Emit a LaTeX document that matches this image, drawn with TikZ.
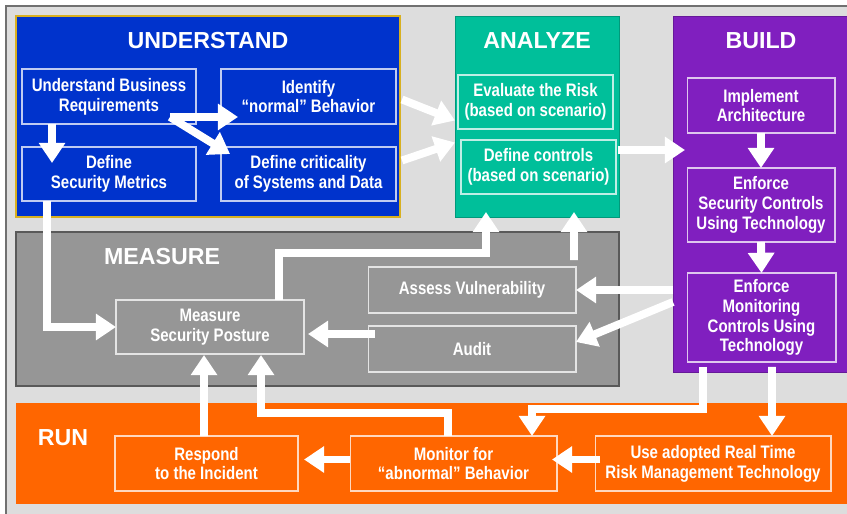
\documentclass[tikz,border=0pt]{standalone}
\usepackage{fontspec}
\setmainfont{Liberation Sans}
\newfontfamily\narrowfont[FakeStretch=0.83]{Liberation Sans}
\usepackage{tikz}
\usetikzlibrary{arrows.meta, fit, calc}

\definecolor{bggray}{HTML}{DDDDDD}
\definecolor{framegray}{HTML}{707070}
\definecolor{undblue}{HTML}{0033CC}
\definecolor{undgold}{HTML}{D8B020}
\definecolor{anateal}{HTML}{00BF9A}
\definecolor{bldpurple}{HTML}{801FBF}
\definecolor{msrgray}{HTML}{969696}
\definecolor{runorange}{HTML}{FF6600}

\begin{document}
\begin{tikzpicture}[x=0.02cm, y=-0.02cm,
  phase/.style={inner sep=0pt, outer sep=0pt},
  box/.style={draw=white, draw opacity=0.75, line width=0.6pt, inner sep=0pt, outer sep=0pt, text=white, align=center, font=\narrowfont\fontsize{10.3}{11.3}\selectfont\bfseries},
  title/.style={text=white, inner sep=0pt, font=\fontsize{13.2}{15}\selectfont\bfseries},
  flow/.style={draw=white, line width=4.5pt, -{Triangle[length=11.5pt, width=14.5pt]}}]
\useasboundingbox (0, 0) rectangle (847, 513);
\clip (0, 0) rectangle (847, 513);
\fill [white](0, 0) rectangle (847, 513);
\fill [bggray](6, 6) rectangle (860, 520);
\draw [framegray, line width=1pt](6, 520) -- (6, 6) -- (860, 6);

% the five phases
\node [phase, fill=undblue, draw=undgold, line width=0.8pt, fit={(16, 16) (400, 217)}] (understand) {};
\node [phase, fill=anateal, draw=anateal!80!black, line width=0.5pt, fit={(455, 16) (619, 217)}] (analyze) {};
\node [phase, fill=bldpurple, draw=bldpurple!80!black, line width=0.5pt, fit={(673, 16) (860, 372)}] (build) {};
\node [phase, fill=msrgray, draw=black!65, line width=0.6pt, fit={(16, 232) (619, 386)}] (measure) {};
\node [phase, fill=runorange, fit={(16, 403) (860, 504)}] (run) {};

\node [title] (undtitle) at (208, 40.5) {UNDERSTAND};
\node [title] (anatitle) at (537, 40.5) {ANALYZE};
\node [title] (bldtitle) at (761, 40.5) {BUILD};
\node [title] (msrtitle) at (162, 257) {MEASURE};
\node [title] (runtitle) at (63, 438) {RUN};

% steps
\node [box, minimum width=3.48cm, minimum height=1.10cm] (ubr) at (109, 96.5) {Understand Business\\Requirements};
\node [box, minimum width=3.50cm, minimum height=1.10cm] (ident) at (308.5, 96.5) {Identify\\“normal” Behavior};
\node [box, minimum width=3.48cm, minimum height=1.08cm] (dsm) at (109, 174) {Define\\Security Metrics};
\node [box, minimum width=3.50cm, minimum height=1.08cm] (crit) at (308.5, 174) {Define criticality\\of Systems and Data};
\node [box, minimum width=3.10cm, minimum height=1.08cm] (risk) at (535.5, 102) {Evaluate the Risk\\(based on scenario)};
\node [box, minimum width=3.10cm, minimum height=1.08cm] (ctrl) at (538.5, 167) {Define controls\\(based on scenario)};
\node [box, minimum width=2.96cm, minimum height=1.10cm] (arch) at (761, 105.5) {Implement\\Architecture};
\node [box, minimum width=2.96cm, minimum height=1.48cm] (esc) at (761, 205) {Enforce\\Security Controls\\Using Technology};
\node [box, minimum width=2.98cm, minimum height=1.78cm] (emc) at (761.5, 317.5) {Enforce\\Monitoring\\Controls Using\\Technology};
\node [box, minimum width=3.76cm, minimum height=1.08cm] (posture) at (210, 327) {Measure\\Security Posture};
\node [box, minimum width=4.16cm, minimum height=0.92cm] (assess) at (472, 290) {Assess Vulnerability};
\node [box, minimum width=4.16cm, minimum height=0.92cm] (audit) at (472, 349) {Audit};
\node [box, minimum width=3.66cm, minimum height=1.10cm] (respond) at (206.5, 463.5) {Respond\\to the Incident};
\node [box, minimum width=4.14cm, minimum height=1.10cm] (monitor) at (453.5, 463.5) {Monitor for\\“abnormal” Behavior};
\node [box, minimum width=4.72cm, minimum height=1.10cm] (rtm) at (713, 463.5) {Use adopted Real Time\\Risk Management Technology};

% arrows
\draw [flow]($(ubr.south west)+(30, 0)$) -- ($(dsm.north west)+(30, 16)$);
\draw [flow]($(ubr.south east)+(-26, -7)$) -- ($(ident.south west)+(17, -7)$);
\draw [flow]($(ubr.south east)+(-26, -7)$) -- ($(crit.north west)+(9, 7)$);
\draw [flow]($(understand.east)+(2, -17)$) -- ($(analyze.west)+(0, 4)$);
\draw [flow]($(understand.east)+(2, 44)$) -- ($(analyze.west)+(0, 26)$);
\draw [flow]($(ctrl.east)+(2, -17)$) -- ($(build.west |- ctrl.east)+(12, -17)$);
\draw [flow](arch.south) -- (esc.north);
\draw [flow](esc.south) -- (emc.north);
\draw [flow](build.west |- assess.east) -- (assess.east);
\draw [flow]($(build.west |- assess.east)+(0, 12)$) -- ($(audit.east)+(0, -7)$);
\draw [flow]($(audit.west)+(7, -15)$) -- ($(posture.east)+(4, 7)$);
\draw [flow]($(dsm.south west)+(25, 0)$) |- (posture.west);
\draw [flow]($(posture.north west)+(163, 0)$) |- ($(analyze.south west)+(31, 36)$) -- ($(analyze.south west)+(31, -5)$);
\draw [flow]($(assess.north east)+(-2, -7)$) -- ($(analyze.south west)+(119, -5)$);
\draw [flow]($(emc.south west)+(16, 5)$) |- ($(monitor.north west)+(182, -27)$) -- ($(monitor.north west)+(182, 0)$);
\draw [flow]($(emc.south west)+(85, 5)$) -- ($(rtm.north west)+(177, 0)$);
\draw [flow]($(rtm.west)+(5, -4)$) -- ($(monitor.east)+(-5, -4)$);
\draw [flow]($(monitor.west)+(0, -4)$) -- ($(respond.east)+(6, -4)$);
\draw [flow]($(respond.north west)+(89, 0)$) -- ($(posture.south west)+(88, 1)$);
\draw [flow]($(monitor.north west)+(98, 0)$) |- ($(posture.south west)+(145, 59)$) -- ($(posture.south west)+(145, 1)$);
\end{tikzpicture}
\end{document}
